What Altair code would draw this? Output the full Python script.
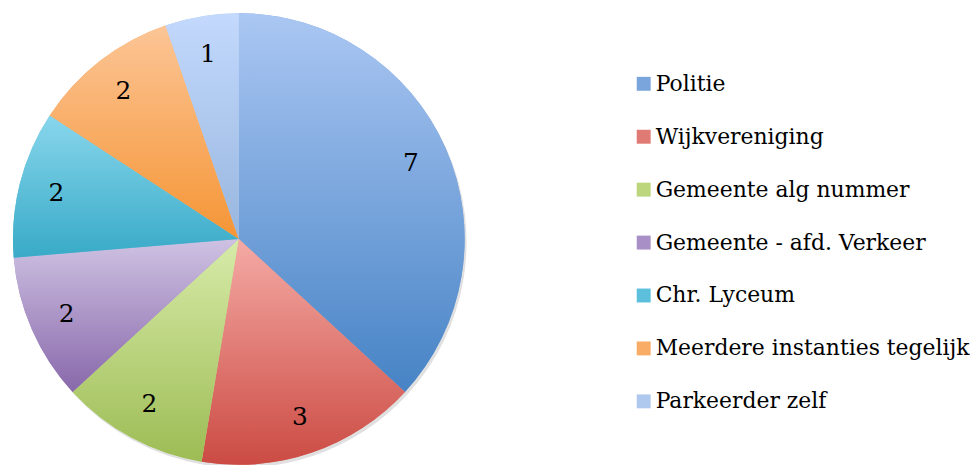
import altair as alt
import pandas as pd

categories = ["Politie", "Wijkvereniging", "Gemeente alg nummer", "Gemeente - afd. Verkeer",
              "Chr. Lyceum", "Meerdere instanties tegelijk", "Parkeerder zelf"]
counts = [7, 3, 2, 2, 2, 2, 1]
top_colors = ["#abc7f3", "#f5aaa5", "#d7eba9", "#cfc2e3", "#88d6ec", "#fcc596", "#c3d9fd"]
bottom_colors = ["#4683c5", "#cb4b43", "#9dbc54", "#8868aa", "#38aac7", "#f59535", "#98b6de"]
legend_colors = ["#7aa4dc", "#e07a74", "#bcd67e", "#a890c6", "#5cc0dc", "#f8ac66", "#aec8ee"]

df = pd.DataFrame({"category": categories, "count": counts, "order": list(range(len(categories)))})

W, H = 470, 462
CX, CY = 232, 231
R = 227
FONT = "DejaVu Serif"

base = alt.Chart(df).encode(
    theta=alt.Theta("count:Q", stack=True),
    order=alt.Order("order:Q"),
)

shadow = base.mark_arc(outerRadius=R, color="#000000", opacity=0.12).encode(
    x=alt.value(CX + 2), y=alt.value(CY + 3)
)

flat = base.mark_arc(outerRadius=R, stroke=None).encode(
    x=alt.value(CX), y=alt.value(CY),
    color=alt.Color(
        "category:N",
        scale=alt.Scale(domain=categories, range=legend_colors),
        legend=alt.Legend(
            title=None, orient="none", legendX=628, legendY=64,
            symbolType="square", symbolSize=196, symbolStrokeWidth=0, symbolOpacity=1,
            labelFont=FONT, labelFontSize=22, labelColor="#000000", labelOffset=1,
            rowPadding=31.2, labelLimit=400,
        ),
    )
)

layers = [shadow, flat]
for cat, c1, c2 in zip(categories, top_colors, bottom_colors):
    grad = alt.Gradient(
        gradient="linear",
        stops=[alt.GradientStop(color=c1, offset=0), alt.GradientStop(color=c2, offset=1)],
        x1=0, x2=0, y1=0, y2=1,
    )
    layers.append(
        base.mark_arc(outerRadius=R, color=grad).encode(
            x=alt.value(CX), y=alt.value(CY),
            opacity=alt.condition(alt.datum.category == cat, alt.value(1), alt.value(0)),
        )
    )

labels = base.mark_text(radius=189, font=FONT, fontSize=25, color="#000000").encode(
    x=alt.value(CX), y=alt.value(CY),
    text=alt.Text("count:Q"),
)
layers.append(labels)

chart = alt.layer(*layers).properties(width=W, height=H, padding=0).configure_view(stroke=None)

chart.save("out.html", embed_options={"renderer": "svg", "actions": False})
